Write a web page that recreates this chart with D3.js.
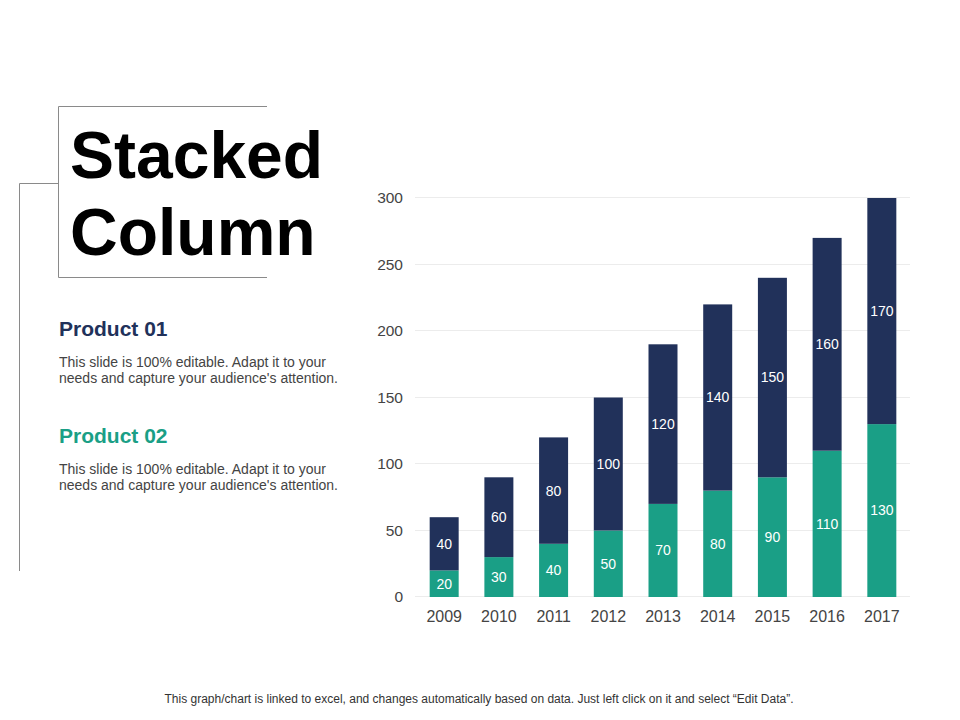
<!DOCTYPE html>
<html>
<head>
<meta charset="utf-8">
<script src="https://cdn.jsdelivr.net/npm/d3@7"></script>
<style>
  body { margin: 0; background: #fff; }
  svg { font-family: "Liberation Sans", Arial, sans-serif; }
</style>
</head>
<body>
<svg id="slide" width="960" height="720"></svg>
<script>
// chart data
let years = ["2009", "2010", "2011", "2012", "2013", "2014", "2015", "2016", "2017"];
let product02 = [20, 30, 40, 50, 70, 80, 90, 110, 130];
let product01 = [40, 60, 80, 100, 120, 140, 150, 160, 170];
let yTicks = [0, 50, 100, 150, 200, 250, 300];

let navy = "#21315a";
let teal = "#1a9f86";

let svg = d3.select("#slide");

// frame lines round the title
let frame = svg.append("g").attr("stroke", "#8a8a8a").attr("fill", "none").attr("stroke-width", 1);
frame.append("path").attr("d", "M267,106.5H58.5V277.5H267");
frame.append("path").attr("d", "M58,183.5H19.5V571");

svg.append("text").attr("x", 70).attr("y", 178)
  .attr("font-size", 66).attr("font-weight", "bold").attr("fill", "#000")
  .text("Stacked");
svg.append("text").attr("x", 70).attr("y", 255)
  .attr("font-size", 66).attr("font-weight", "bold").attr("fill", "#000")
  .text("Column");

// legend text blocks
let blocks = [
  { name: "Product 01", colour: navy, y: 336 },
  { name: "Product 02", colour: teal, y: 443 }
];
blocks.forEach((b) => {
  svg.append("text").attr("x", 59).attr("y", b.y)
    .attr("font-size", 21).attr("font-weight", "bold").attr("fill", b.colour)
    .text(b.name);
  svg.append("text").attr("x", 59).attr("y", b.y + 31)
    .attr("font-size", 14).attr("fill", "#444")
    .text("This slide is 100% editable. Adapt it to your");
  svg.append("text").attr("x", 59).attr("y", b.y + 47)
    .attr("font-size", 14).attr("fill", "#444")
    .text("needs and capture your audience's attention.");
});

// chart
let x = d3.scaleBand().domain(years).range([416, 910]).paddingInner(0.47).paddingOuter(0.25);
let y = d3.scaleLinear().domain([0, 300]).range([597, 198]);

let stackData = years.map((yr, i) => ({ year: yr, p02: product02[i], p01: product01[i] }));
let series = d3.stack().keys(["p02", "p01"])(stackData);
let colours = { p02: teal, p01: navy };

let chart = svg.append("g");

chart.append("g").selectAll("line").data(yTicks).enter().append("line")
  .attr("x1", 415).attr("x2", 910)
  .attr("y1", (d) => Math.round(y(d)) - 0.5).attr("y2", (d) => Math.round(y(d)) - 0.5)
  .attr("stroke", "#ececec");

let yAxis = chart.append("g").attr("transform", "translate(403,0)")
  .call(d3.axisLeft(y).tickValues(yTicks).tickSize(0).tickPadding(0));
yAxis.select(".domain").remove();
yAxis.selectAll("text").attr("font-size", 15.5).attr("fill", "#444")
  .attr("font-family", "Liberation Sans, Arial, sans-serif");

let xAxis = chart.append("g").attr("transform", "translate(0,608)")
  .call(d3.axisBottom(x).tickSize(0).tickPadding(0));
xAxis.select(".domain").remove();
xAxis.selectAll("text").attr("font-size", 16).attr("fill", "#444")
  .attr("dy", "0.9em")
  .attr("font-family", "Liberation Sans, Arial, sans-serif");

let layers = chart.selectAll(".layer").data(series).enter().append("g")
  .attr("class", "layer").attr("fill", (s) => colours[s.key]);

layers.selectAll("rect").data((s) => s).enter().append("rect")
  .attr("x", (d) => x(d.data.year))
  .attr("width", x.bandwidth())
  .attr("y", (d) => y(d[1]))
  .attr("height", (d) => y(d[0]) - y(d[1]));

layers.selectAll("text").data((s) => s).enter().append("text")
  .attr("x", (d) => x(d.data.year) + x.bandwidth() / 2)
  .attr("y", (d) => y((d[0] + d[1]) / 2))
  .attr("dy", "0.35em")
  .attr("text-anchor", "middle")
  .attr("font-size", 14).attr("fill", "#fff")
  .text((d) => d[1] - d[0]);

// footer note
svg.append("text").attr("x", 479).attr("y", 703)
  .attr("text-anchor", "middle").attr("font-size", 12).attr("fill", "#333")
  .text("This graph/chart is linked to excel, and changes automatically based on data. Just left click on it and select \u201cEdit Data\u201d.");
</script>
</body>
</html>
